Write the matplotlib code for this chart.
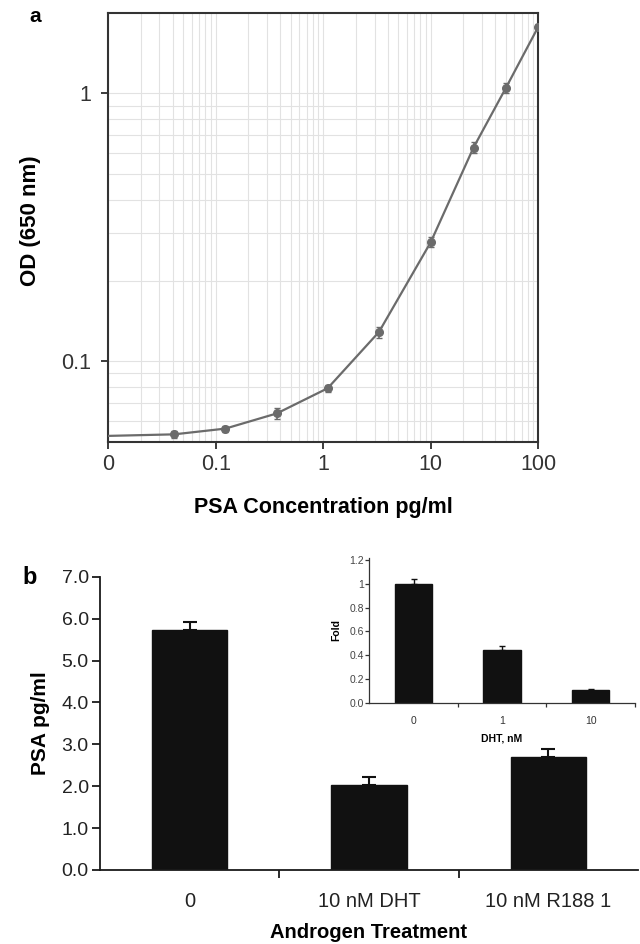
import numpy as np
import matplotlib
matplotlib.use('Agg')
import matplotlib.pyplot as plt
from matplotlib.ticker import LogLocator, FixedLocator, NullFormatter

plt.rcParams['font.family'] = ['Liberation Sans', 'DejaVu Sans']

# ---- panel a: standard curve ----
psa_conc = [0.01, 0.041, 0.123, 0.37, 1.1, 3.3, 10, 25, 50, 100]
od_650 = [0.0526, 0.0533, 0.056, 0.0638, 0.0792, 0.1285, 0.278, 0.627, 1.047, 1.77]
od_err = [0.0, 0.0015, 0.0015, 0.003, 0.0025, 0.006, 0.012, 0.03, 0.045, 0.05]
a_xticks = [0.01, 0.1, 1, 10, 100]
a_xticklabels = ['0', '0.1', '1', '10', '100']
a_yticks = [0.1, 1]
a_yticklabels = ['0.1', '1']

# ---- panel b: PSA secretion ----
treatments = ['0', '10 nM DHT', '10 nM R188 1']
psa_vals = [5.74, 2.03, 2.70]
psa_err = [0.18, 0.19, 0.19]

# ---- inset ----
dht_doses = ['0', '1', '10']
fold_vals = [1.0, 0.444, 0.107]
fold_err = [0.04, 0.035, 0.01]

fig = plt.figure(figsize=(6.4, 9.44), dpi=100)
fg = '#1a1a1a'
curve = '#6b6b6b'

# panel a
ax1 = fig.add_axes([0.169, 0.532, 0.672, 0.454])
ax1.set_xscale('log')
ax1.set_yscale('log')
ax1.set_xlim(0.01, 100)
ax1.set_ylim(0.05, 1.99)
ax1.plot(psa_conc, od_650, '-', color=curve, lw=1.6, zorder=3)
ax1.errorbar(psa_conc[1:], od_650[1:], yerr=od_err[1:], fmt='o', color=curve,
             ms=5.5, capsize=2, elinewidth=1.2, zorder=4)
ax1.xaxis.set_major_locator(FixedLocator(a_xticks))
ax1.set_xticklabels(a_xticklabels)
ax1.yaxis.set_major_locator(FixedLocator(a_yticks))
ax1.set_yticklabels(a_yticklabels)
ax1.xaxis.set_minor_locator(LogLocator(base=10, subs=np.arange(2, 10)))
ax1.yaxis.set_minor_locator(LogLocator(base=10, subs=np.arange(2, 10)))
ax1.xaxis.set_minor_formatter(NullFormatter())
ax1.yaxis.set_minor_formatter(NullFormatter())
ax1.grid(True, which='both', color='#e2e2e2', lw=0.8)
ax1.set_axisbelow(True)
ax1.tick_params(which='minor', length=0)
ax1.tick_params(which='major', length=5, width=1.2, color=fg, labelsize=15.5, labelcolor='#333333')
ax1.tick_params(axis='y', pad=7)
for s in ax1.spines.values():
    s.set_color('#333333')
    s.set_linewidth(1.5)
ax1.set_xlabel('PSA Concentration pg/ml', fontsize=15.5, fontweight='bold', labelpad=16)
ax1.set_ylabel('OD (650 nm)', fontsize=16, fontweight='bold')
ax1.yaxis.set_label_coords(-0.155, 0.515)
fig.text(0.055, 0.982, 'a', fontsize=15, fontweight='bold', ha='center', va='center')

# panel b
ax2 = fig.add_axes([0.156, 0.0784, 0.841, 0.3106])
xb = np.arange(len(treatments))
ax2.bar(xb, psa_vals, width=0.42, color='#111111', edgecolor='#111111')
ax2.errorbar(xb, psa_vals, yerr=[np.zeros(3), psa_err], fmt='none', ecolor='#111111',
             capsize=5, elinewidth=1.5, capthick=1.5)
ax2.set_xlim(-0.5, 2.5)
ax2.set_ylim(0, 7.0)
ax2.set_yticks(np.arange(0, 7.5, 1.0))
ax2.set_yticklabels(['%.1f' % v for v in np.arange(0, 7.5, 1.0)])
ax2.set_xticks([0.5, 1.5])
ax2.set_xticklabels([])
for i, t in enumerate(treatments):
    ax2.text(i, -0.75, t, ha='center', va='center', fontsize=14.5, color='#222222',
             transform=ax2.transData)
ax2.spines['top'].set_visible(False)
ax2.spines['right'].set_visible(False)
for s in ['left', 'bottom']:
    ax2.spines[s].set_linewidth(1.3)
    ax2.spines[s].set_color(fg)
ax2.tick_params(length=6, width=1.3, color=fg, labelsize=14, labelcolor='#222222', pad=2)
ax2.set_ylabel('PSA pg/ml', fontsize=15, fontweight='bold', labelpad=8)
ax2.text(1.0, -1.5, 'Androgen Treatment', ha='center', va='center', fontsize=14.5,
         fontweight='bold', transform=ax2.transData)
fig.text(0.047, 0.388, 'b', fontsize=17, fontweight='bold', ha='center', va='center')

# inset
ax3 = fig.add_axes([0.577, 0.2556, 0.415, 0.1534])
xi = np.arange(len(dht_doses))
ax3.bar(xi, fold_vals, width=0.42, color='#111111', edgecolor='#111111')
ax3.errorbar(xi, fold_vals, yerr=[np.zeros(3), fold_err], fmt='none', ecolor='#111111',
             capsize=2.5, elinewidth=1, capthick=1)
ax3.set_xlim(-0.5, 2.5)
ax3.set_ylim(0, 1.22)
ax3.set_yticks([0, 0.2, 0.4, 0.6, 0.8, 1.0, 1.2])
ax3.set_yticklabels(['0.0', '0.2', '0.4', '0.6', '0.8', '1', '1.2'])
ax3.set_xticks([0.5, 1.5, 2.5])
ax3.set_xticklabels([])
for i, d in enumerate(dht_doses):
    ax3.text(i, -0.15, d, ha='center', va='center', fontsize=7.5, color='#333333',
             transform=ax3.transData)
ax3.text(1.0, -0.3, 'DHT, nM', ha='center', va='center', fontsize=7.5,
         fontweight='bold', transform=ax3.transData)
ax3.spines['top'].set_visible(False)
ax3.spines['right'].set_visible(False)
for s in ['left', 'bottom']:
    ax3.spines[s].set_linewidth(0.9)
    ax3.spines[s].set_color('#333333')
ax3.tick_params(length=3, width=0.9, color='#333333', labelsize=7.5, labelcolor='#444444', pad=1)
ax3.set_ylabel('Fold', fontsize=7.5, fontweight='bold', labelpad=6)

fig.savefig('out.png', dpi=100)
